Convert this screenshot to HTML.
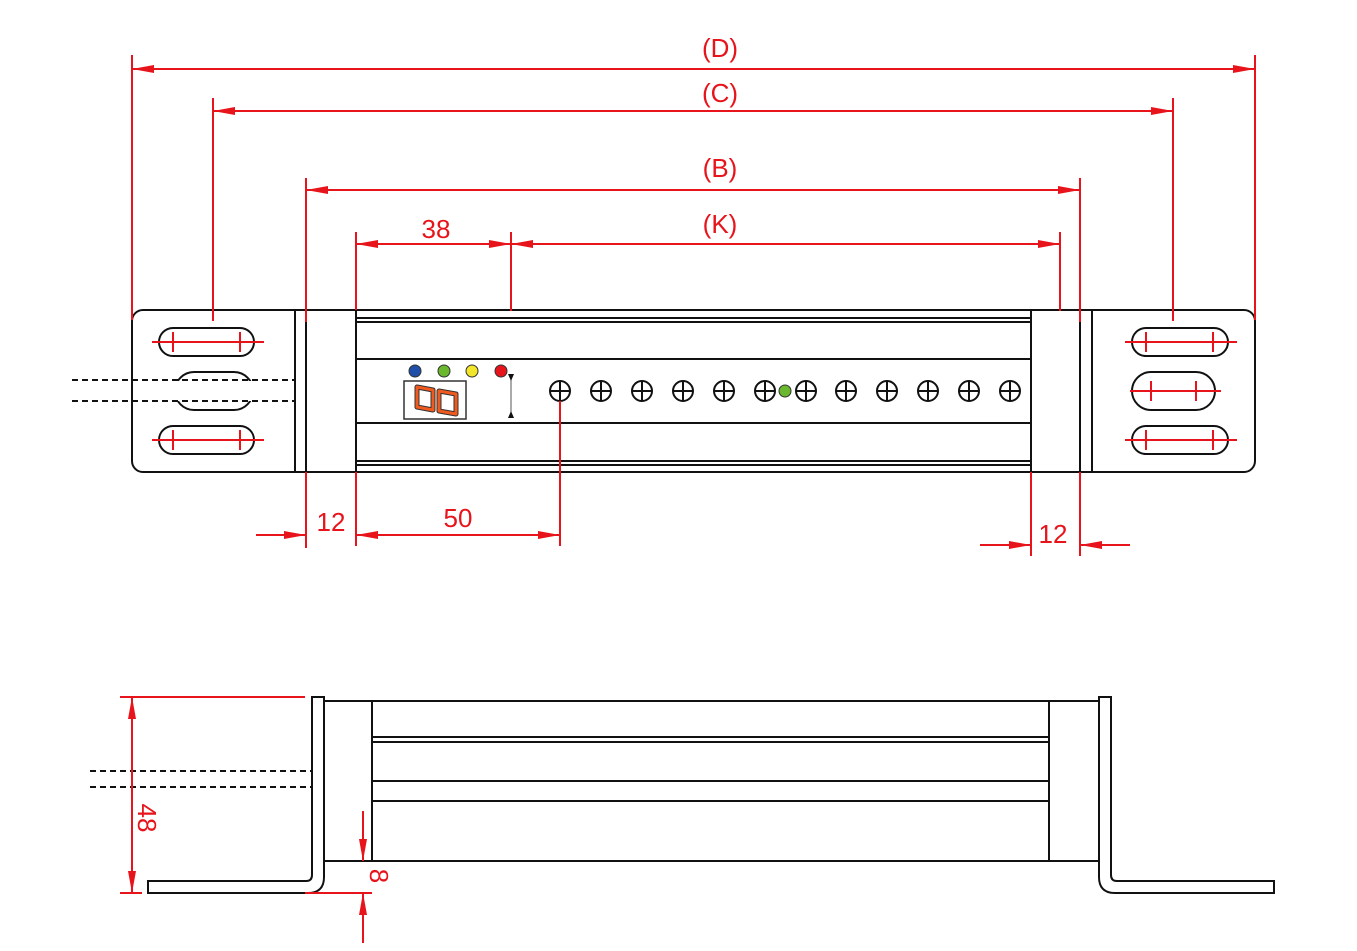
<!DOCTYPE html>
<html><head><meta charset="utf-8"><style>
html,body{margin:0;padding:0;background:#fff;}
svg{display:block;}
text{font-family:"Liberation Sans",Arial,sans-serif;fill:#e8141b;font-size:26px;}
</style></head><body>
<svg width="1357" height="951" viewBox="0 0 1357 951" xmlns="http://www.w3.org/2000/svg">
<defs>
<marker id="a" viewBox="0 0 22 8" refX="22" refY="4" markerWidth="22" markerHeight="8" markerUnits="userSpaceOnUse" orient="auto-start-reverse">
<path d="M0,0 L22,4 L0,8 Z" fill="#e8141b"/>
</marker>
</defs>
<g fill="none" stroke="#111" stroke-width="2">
<rect x="132" y="310" width="1123" height="162" rx="11"/>
<line x1="295" y1="310" x2="295" y2="472"/>
<line x1="306" y1="310" x2="306" y2="472"/>
<line x1="356" y1="310" x2="356" y2="472"/>
<line x1="1031" y1="310" x2="1031" y2="472"/>
<line x1="1080" y1="310" x2="1080" y2="472"/>
<line x1="1092" y1="310" x2="1092" y2="472"/>
<line x1="356" y1="318" x2="1031" y2="318"/>
<line x1="356" y1="322" x2="1031" y2="322"/>
<line x1="356" y1="359" x2="1031" y2="359"/>
<line x1="356" y1="423" x2="1031" y2="423"/>
<line x1="356" y1="461" x2="1031" y2="461"/>
<line x1="356" y1="465" x2="1031" y2="465"/>
<rect x="159" y="328" width="95" height="28" rx="14"/>
<rect x="175" y="372" width="78" height="38" rx="19"/>
<rect x="159" y="426" width="95" height="28" rx="14"/>
<rect x="1132" y="328" width="96" height="28" rx="14"/>
<rect x="1132" y="372" width="83" height="38" rx="19"/>
<rect x="1132" y="426" width="96" height="28" rx="14"/>
</g>
<rect x="170" y="381" width="90" height="20" fill="#fff"/>
<g stroke="#111" stroke-width="2" stroke-dasharray="6,4">
<line x1="72" y1="380" x2="295" y2="380"/>
<line x1="72" y1="401" x2="295" y2="401"/>
<line x1="90" y1="771" x2="312" y2="771"/>
<line x1="90" y1="787" x2="312" y2="787"/>
</g>
<g fill="none" stroke="#111" stroke-width="2">
<g id="s"><circle cx="560" cy="391" r="10"/><line x1="550" y1="391" x2="570" y2="391"/><line x1="560" y1="381" x2="560" y2="401"/></g>
<use href="#s" x="41"/><use href="#s" x="82"/><use href="#s" x="123"/><use href="#s" x="164"/><use href="#s" x="205"/><use href="#s" x="246"/><use href="#s" x="286"/><use href="#s" x="327"/><use href="#s" x="368"/><use href="#s" x="409"/><use href="#s" x="450"/>
</g>
<circle cx="785" cy="391" r="6" fill="#6ab82e" stroke="#333" stroke-width="1"/>
<circle cx="415" cy="371" r="6" fill="#1f4fa8" stroke="#333" stroke-width="1"/>
<circle cx="444" cy="371" r="6" fill="#6ab82e" stroke="#333" stroke-width="1"/>
<circle cx="472" cy="371" r="6" fill="#f2e52a" stroke="#333" stroke-width="1"/>
<circle cx="501" cy="371" r="6" fill="#e8141b" stroke="#333" stroke-width="1"/>
<rect x="404" y="381" width="62" height="38" fill="none" stroke="#333" stroke-width="1.5"/>
<g fill="none" stroke-linejoin="round">
<path d="M417,387 L433,390 L433,410 L417,407 Z" stroke="#333" stroke-width="5"/>
<path d="M439,391 L456,394 L456,414 L439,411 Z" stroke="#333" stroke-width="5"/>
<path d="M417,387 L433,390 L433,410 L417,407 Z" stroke="#f05a1e" stroke-width="3"/>
<path d="M439,391 L456,394 L456,414 L439,411 Z" stroke="#f05a1e" stroke-width="3"/>
</g>
<line x1="511" y1="376" x2="511" y2="416" stroke="#555" stroke-width="1"/>
<path d="M508,374 L514,374 L511,381 Z M508,418 L514,418 L511,411 Z" fill="#111"/>
<g fill="none" stroke="#111" stroke-width="2">
<path d="M148,881 L306,881 Q312,881 312,875 L312,697 L324,697 L324,877 Q324,893 308,893 L148,893 Z"/>
<path d="M1274,881 L1117,881 Q1111,881 1111,875 L1111,697 L1099,697 L1099,877 Q1099,893 1115,893 L1274,893 Z"/>
<line x1="324" y1="701" x2="1099" y2="701"/>
<line x1="324" y1="861" x2="1099" y2="861"/>
<line x1="372" y1="701" x2="372" y2="861"/>
<line x1="1049" y1="701" x2="1049" y2="861"/>
<line x1="372" y1="737" x2="1049" y2="737"/>
<line x1="372" y1="742" x2="1049" y2="742"/>
<line x1="372" y1="781" x2="1049" y2="781"/>
<line x1="372" y1="801" x2="1049" y2="801"/>
</g>
<g stroke="#e8141b" stroke-width="2" fill="none">
<line x1="152" y1="342" x2="264" y2="342"/><line x1="173" y1="332" x2="173" y2="352"/><line x1="240" y1="332" x2="240" y2="352"/>
<line x1="152" y1="440" x2="264" y2="440"/><line x1="173" y1="430" x2="173" y2="450"/><line x1="240" y1="430" x2="240" y2="450"/>
<line x1="1125" y1="342" x2="1237" y2="342"/><line x1="1146" y1="332" x2="1146" y2="352"/><line x1="1213" y1="332" x2="1213" y2="352"/>
<line x1="1125" y1="440" x2="1237" y2="440"/><line x1="1146" y1="430" x2="1146" y2="450"/><line x1="1213" y1="430" x2="1213" y2="450"/>
<line x1="1130" y1="391" x2="1221" y2="391"/><line x1="1151" y1="381" x2="1151" y2="401"/><line x1="1196" y1="381" x2="1196" y2="401"/>
<line x1="132" y1="55" x2="132" y2="320"/><line x1="1255" y1="55" x2="1255" y2="320"/>
<line x1="213" y1="98" x2="213" y2="321"/><line x1="1173" y1="98" x2="1173" y2="321"/>
<line x1="306" y1="178" x2="306" y2="322"/><line x1="306" y1="472" x2="306" y2="548"/>
<line x1="1080" y1="178" x2="1080" y2="322"/><line x1="1080" y1="472" x2="1080" y2="556"/>
<line x1="356" y1="232" x2="356" y2="310"/><line x1="356" y1="472" x2="356" y2="546"/>
<line x1="511" y1="232" x2="511" y2="311"/>
<line x1="1060" y1="232" x2="1060" y2="311"/>
<line x1="560" y1="401" x2="560" y2="546"/>
<line x1="1031" y1="472" x2="1031" y2="556"/>
<line x1="132" y1="69" x2="1255" y2="69" marker-start="url(#a)" marker-end="url(#a)"/>
<line x1="213" y1="111" x2="1173" y2="111" marker-start="url(#a)" marker-end="url(#a)"/>
<line x1="306" y1="190" x2="1080" y2="190" marker-start="url(#a)" marker-end="url(#a)"/>
<line x1="356" y1="244" x2="511" y2="244" marker-start="url(#a)" marker-end="url(#a)"/>
<line x1="511" y1="244" x2="1060" y2="244" marker-start="url(#a)" marker-end="url(#a)"/>
<line x1="256" y1="535" x2="306" y2="535" marker-end="url(#a)"/>
<line x1="356" y1="535" x2="560" y2="535" marker-start="url(#a)" marker-end="url(#a)"/>
<line x1="980" y1="545" x2="1031" y2="545" marker-end="url(#a)"/>
<line x1="1130" y1="545" x2="1080" y2="545" marker-end="url(#a)"/>
<line x1="120" y1="697" x2="305" y2="697"/><line x1="120" y1="893" x2="142" y2="893"/>
<line x1="132" y1="697" x2="132" y2="893" marker-start="url(#a)" marker-end="url(#a)"/>
<line x1="305" y1="893" x2="372" y2="893"/>
<line x1="363" y1="811" x2="363" y2="861" marker-end="url(#a)"/>
<line x1="363" y1="943" x2="363" y2="893" marker-end="url(#a)"/>
</g>
<text x="720" y="57" text-anchor="middle">(D)</text>
<text x="720" y="102" text-anchor="middle">(C)</text>
<text x="720" y="177" text-anchor="middle">(B)</text>
<text x="436" y="238" text-anchor="middle">38</text>
<text x="720" y="233" text-anchor="middle">(K)</text>
<text x="331" y="531" text-anchor="middle">12</text>
<text x="458" y="527" text-anchor="middle">50</text>
<text x="1053" y="543" text-anchor="middle">12</text>
<text transform="translate(138,818) rotate(90)" text-anchor="middle">48</text>
<text transform="translate(370,876) rotate(90)" text-anchor="middle">8</text>
</svg>
</body></html>
